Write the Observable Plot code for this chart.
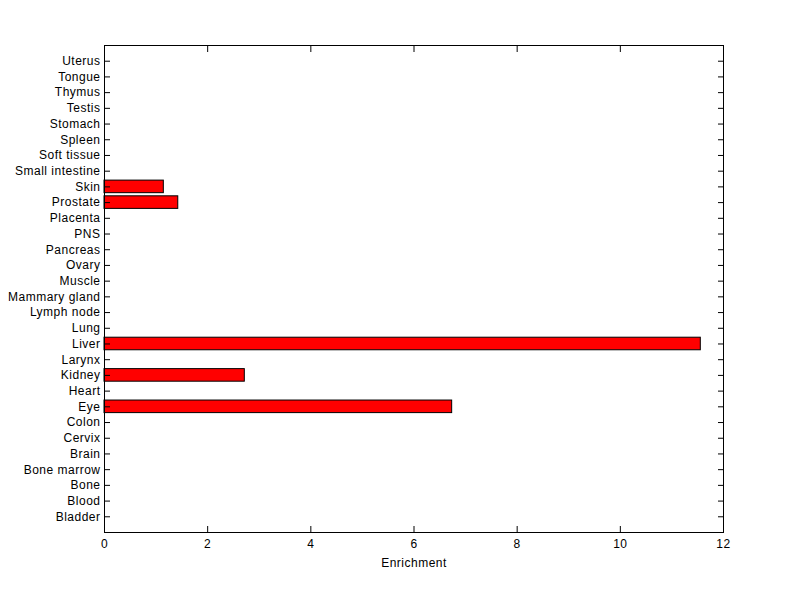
<!DOCTYPE html>
<html>
<head>
<meta charset="utf-8">
<script src="https://cdn.jsdelivr.net/npm/d3@7"></script>
<script src="https://cdn.jsdelivr.net/npm/@observablehq/plot@0.6"></script>
<style>
  html, body { margin: 0; padding: 0; background: #fff; }
  svg { display: block; }
</style>
</head>
<body>
<div id="chart"></div>
<script>
const tissues = ["Bladder","Blood","Bone","Bone marrow","Brain","Cervix","Colon","Eye","Heart","Kidney","Larynx","Liver","Lung","Lymph node","Mammary gland","Muscle","Ovary","Pancreas","PNS","Placenta","Prostate","Skin","Small intestine","Soft tissue","Spleen","Stomach","Testis","Thymus","Tongue","Uterus"];
const enrichment = [0,0,0,0,0,0,0,6.74,0,2.72,0,11.56,0,0,0,0,0,0,0,0,1.43,1.15,0,0,0,0,0,0,0,0];
const xTicks = [0, 2, 4, 6, 8, 10, 12];
const xLabel = "Enrichment";

const data = tissues.map((t, i) => ({tissue: t, pos: i + 1, value: enrichment[i]}));
const barWidth = 0.8;

const chart = Plot.plot({
  width: 800,
  height: 599,
  marginLeft: 104,
  marginRight: 77,
  marginTop: 45,
  marginBottom: 67,
  style: {fontFamily: "'Liberation Sans', Arial, Helvetica, sans-serif", fontSize: "12px", letterSpacing: "0.5px", color: "#000", background: "#fff"},
  x: {domain: [0, 12]},
  y: {domain: [0, tissues.length + 1]},
  marks: [
    Plot.rectX(data.filter(d => d.value > 0), {
      x1: 0, x2: "value",
      y1: d => d.pos - barWidth / 2, y2: d => d.pos + barWidth / 2,
      fill: "#ff0000", stroke: "#000", strokeWidth: 1
    }),
    Plot.axisX({anchor: "bottom", ticks: xTicks, tickSize: -6, tickPadding: 13, label: xLabel, labelAnchor: "center", labelArrow: "none", labelOffset: 34}),
    Plot.axisX({anchor: "top", ticks: xTicks, tickSize: -6, tickFormat: () => "", label: null}),
    Plot.axisY({anchor: "left", ticks: data.map(d => d.pos), tickFormat: p => tissues[p - 1], tickSize: -6, tickPadding: 10, label: null}),
    Plot.axisY({anchor: "right", ticks: data.map(d => d.pos), tickFormat: () => "", tickSize: -6, label: null}),
    Plot.frame({stroke: "#000", strokeWidth: 1})
  ]
});
document.getElementById("chart").appendChild(chart);
</script>
</body>
</html>
